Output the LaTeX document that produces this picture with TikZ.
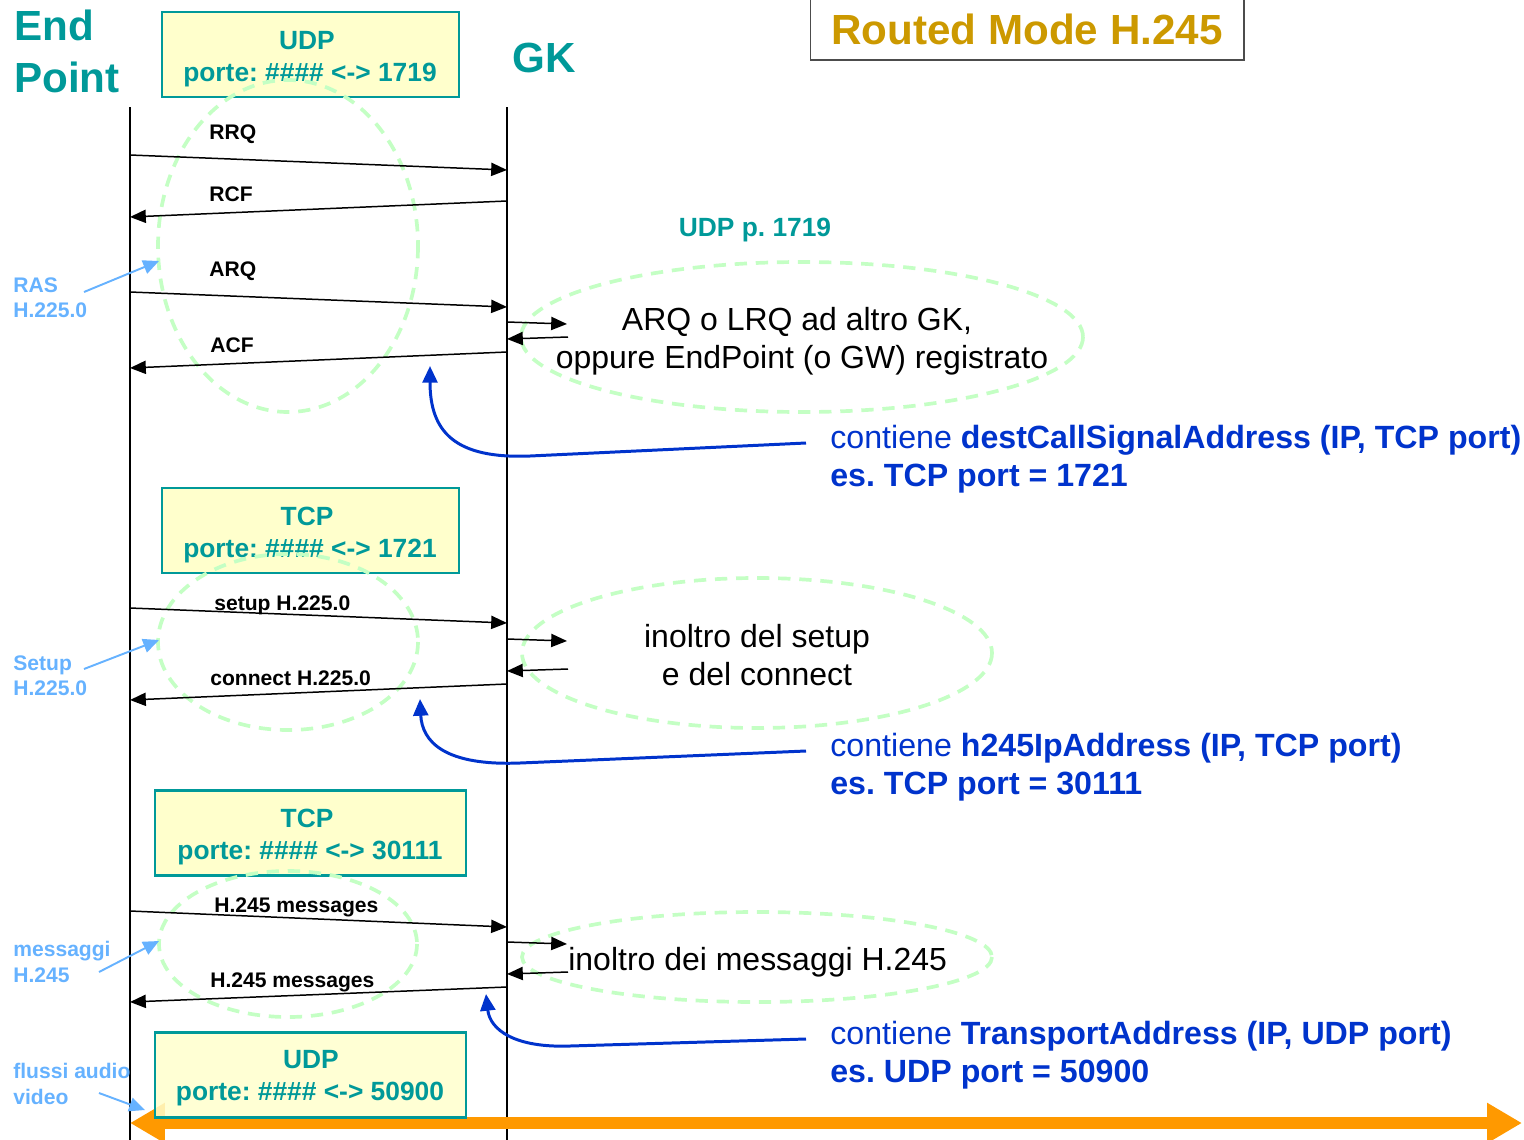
\documentclass[tikz,border=0pt]{standalone}
\usepackage{fontspec}
\setmainfont{Liberation Sans}
\usetikzlibrary{arrows.meta}
\definecolor{tealc}{RGB}{0,153,153}
\definecolor{goldc}{RGB}{204,153,0}
\definecolor{skyc}{RGB}{102,178,255}
\definecolor{mintc}{RGB}{196,255,196}
\definecolor{royalc}{RGB}{0,51,204}
\definecolor{orangec}{RGB}{255,153,0}
\definecolor{creamc}{RGB}{255,255,204}
\frenchspacing

\begin{document}
\begin{tikzpicture}[x=0.02cm,y=-0.02cm,
  head/.style={font=\bfseries\fontsize{24}{28}\selectfont, text=tealc, inner sep=0, anchor=base west},
  portbox/.style={draw=tealc, line width=1.4pt, fill=creamc, minimum height=1.7cm, inner sep=0},
  porttxt/.style={font=\bfseries\fontsize{15}{18}\selectfont, text=tealc, inner sep=0, anchor=base},
  lifeline/.style={line width=0.85pt},
  msg/.style={line width=0.85pt, -{Triangle[length=9pt,width=7.5pt]}},
  msglabel/.style={font=\bfseries\fontsize{12}{14}\selectfont, inner sep=0, anchor=base west},
  sidelabel/.style={font=\bfseries\fontsize{12}{14}\selectfont, text=skyc, inner sep=0, anchor=base west},
  sidearrow/.style={draw=skyc, line width=1.1pt, -{Triangle[length=9pt,width=8pt]}},
  zone/.style={draw=mintc, line width=2.1pt, dash pattern=on 7pt off 5pt},
  note/.style={font=\fontsize{18.2}{22}\selectfont, inner sep=0, anchor=base},
  info/.style={font=\fontsize{18.3}{22}\selectfont, text=royalc, inner sep=0, anchor=base west},
  pointer/.style={draw=royalc, line width=1.7pt, -{Triangle[length=9.5pt,width=8.5pt]}},
  flow/.style={draw=orangec, line width=6.8pt,
    {Triangle[length=0.7cm,width=0.76cm]}-{Triangle[length=0.7cm,width=0.76cm]}},
]
\useasboundingbox (0,0) rectangle (1524,1139);

% ---- headers ----
\node[head] (ep1) at (14,40) {End};
\node[head] (ep2) at (14,92) {Point};
\node[head] (gk) at (512,72) {GK};
\node[draw=black!70, line width=0.6pt, minimum width=8.68cm, minimum height=1.24cm,
      font=\bfseries\fontsize{24}{28}\selectfont, text=goldc, inner sep=0] (title) at (1027,29)
      {Routed Mode H.245};

% ---- lifelines ----
\coordinate (epT) at (130,107);
\coordinate (epB) at (130,1145);
\coordinate (gkT) at (507,107);
\coordinate (gkB) at (507,1145);
\draw[lifeline] (epT) -- (epB);
\draw[lifeline] (gkT) -- (gkB);

% ---- orange media flow ----
\coordinate (flowL) at (130,1123);
\coordinate (flowR) at (1522,1123);
\draw[flow] (flowL) -- (flowR);

% ---- port boxes ----
\node[portbox, minimum width=5.94cm] (box1) at (310.5,54.5) {};
\node[porttxt] (box1a) at (307,49) {UDP};
\node[porttxt] (box1b) at (310,81) {porte: \#\#\#\# <-> 1719};
\node[portbox, minimum width=5.94cm] (box2) at (310.5,530.5) {};
\node[porttxt] (box2a) at (307,525) {TCP};
\node[porttxt] (box2b) at (310,557) {porte: \#\#\#\# <-> 1721};
\node[portbox, minimum width=6.22cm] (box3) at (310.5,833) {};
\node[porttxt] (box3a) at (307,827) {TCP};
\node[porttxt] (box3b) at (310,859) {porte: \#\#\#\# <-> 30111};
\node[portbox, minimum width=6.22cm, fill opacity=0.85] (box4) at (310.5,1075) {};
\node[porttxt] (box4a) at (311,1068) {UDP};
\node[porttxt] (box4b) at (310,1100) {porte: \#\#\#\# <-> 50900};

% ---- dashed zones ----
\draw[zone] (288,246) ellipse [x radius=130, y radius=166];
\draw[zone] (288,642) ellipse [x radius=130, y radius=88];
\draw[zone] (288,944) ellipse [x radius=129, y radius=73];
\draw[zone] (802,337) ellipse [x radius=281, y radius=75];
\draw[zone] (757,653) ellipse [x radius=235, y radius=75];
\draw[zone] (757,957) ellipse [x radius=235, y radius=45];

% ---- RAS exchange ----
\coordinate (rrqA) at (130,155);  \coordinate (rrqB) at (507,170);
\coordinate (rcfA) at (507,201);  \coordinate (rcfB) at (130,217);
\coordinate (arqA) at (130,292);  \coordinate (arqB) at (507,307);
\coordinate (acfA) at (507,352);  \coordinate (acfB) at (130,368);
\draw[msg] (rrqA) -- (rrqB);
\draw[msg] (rcfA) -- (rcfB);
\draw[msg] (arqA) -- (arqB);
\draw[msg] (acfA) -- (acfB);
\node[msglabel] (lrrq) at (209,139) {RRQ};
\node[msglabel] (lrcf) at (209,201) {RCF};
\node[msglabel] (larq) at (209,276) {ARQ};
\node[msglabel] (lacf) at (210,352) {ACF};

\coordinate (gx1A) at (507,322);  \coordinate (gx1B) at (567,324);
\coordinate (gx2A) at (568,337);  \coordinate (gx2B) at (507,339);
\draw[msg] (gx1A) -- (gx1B);
\draw[msg] (gx2A) -- (gx2B);

\node[font=\bfseries\fontsize{15}{18}\selectfont, text=tealc, inner sep=0, anchor=base] (udp1719) at (755,236) {UDP p. 1719};
\node[note] (n1a) at (797,330) {ARQ o LRQ ad altro GK,};
\node[note] (n1b) at (802,368) {oppure EndPoint (o GW) registrato};

\node[sidelabel] (ras1) at (13,292) {RAS};
\node[sidelabel] (ras2) at (13,317) {H.225.0};
\coordinate (rasA) at (84,292); \coordinate (rasB) at (159,261);
\draw[sidearrow] (rasA) -- (rasB);

\node[info] (i1a) at (830,448) {contiene \textbf{destCallSignalAddress (IP, TCP port)}};
\node[info] (i1b) at (830,486) {\textbf{es. TCP port = 1721}};
\coordinate (p1A) at (806,443); \coordinate (p1B) at (430,366);
\draw[pointer] (p1A) -- (530,456) .. controls (455,459) and (430,432) .. (p1B);

% ---- call signalling ----
\coordinate (setA) at (130,608);  \coordinate (setB) at (507,623);
\coordinate (conA) at (507,684);  \coordinate (conB) at (130,700);
\draw[msg] (setA) -- (setB);
\draw[msg] (conA) -- (conB);
\node[msglabel] (lset) at (214,610) {setup H.225.0};
\node[msglabel] (lcon) at (210,685) {connect H.225.0};

\coordinate (gy1A) at (507,639);  \coordinate (gy1B) at (567,641);
\coordinate (gy2A) at (568,669);  \coordinate (gy2B) at (507,671);
\draw[msg] (gy1A) -- (gy1B);
\draw[msg] (gy2A) -- (gy2B);
\node[note] (n2a) at (757,647) {inoltro del setup};
\node[note] (n2b) at (757,685) {e del connect};

\node[sidelabel] (set1) at (13,670) {Setup};
\node[sidelabel] (set2) at (13,695) {H.225.0};
\coordinate (setupA) at (84,669); \coordinate (setupB) at (159,640);
\draw[sidearrow] (setupA) -- (setupB);

\node[info] (i2a) at (830,756) {contiene \textbf{h245IpAddress (IP, TCP port)}};
\node[info] (i2b) at (830,794) {\textbf{es. TCP port = 30111}};
\coordinate (p2A) at (806,751); \coordinate (p2B) at (420,699);
\draw[pointer] (p2A) -- (520,763) .. controls (445,766) and (422,742) .. (p2B);

% ---- H.245 control ----
\coordinate (h1A) at (130,911);  \coordinate (h1B) at (507,927);
\coordinate (h2A) at (507,987);  \coordinate (h2B) at (130,1002);
\draw[msg] (h1A) -- (h1B);
\draw[msg] (h2A) -- (h2B);
\node[msglabel] (lh1) at (214,912) {H.245 messages};
\node[msglabel] (lh2) at (210,987) {H.245 messages};

\coordinate (gz1A) at (507,942);  \coordinate (gz1B) at (567,944);
\coordinate (gz2A) at (568,972);  \coordinate (gz2B) at (507,974);
\draw[msg] (gz1A) -- (gz1B);
\draw[msg] (gz2A) -- (gz2B);
\node[note, anchor=base west] (n3) at (568,970) {inoltro dei messaggi H.245};

\node[sidelabel] (msg1) at (13,956) {messaggi};
\node[sidelabel] (msg2) at (13,982) {H.245};
\coordinate (mgA) at (99,972); \coordinate (mgB) at (159,941);
\draw[sidearrow] (mgA) -- (mgB);

\node[info] (i3a) at (830,1044) {contiene \textbf{TransportAddress (IP, UDP port)}};
\node[info] (i3b) at (830,1082) {\textbf{es. UDP port = 50900}};
\coordinate (p3A) at (806,1039); \coordinate (p3B) at (486,994);
\draw[pointer] (p3A) -- (570,1046) .. controls (515,1048) and (490,1030) .. (p3B);

% ---- media ----
\node[sidelabel] (av1) at (13,1078) {flussi audio};
\node[sidelabel] (av2) at (13,1104) {video};
\coordinate (avA) at (99,1093); \coordinate (avB) at (145,1110);
\draw[sidearrow] (avA) -- (avB);
\end{tikzpicture}
\end{document}
